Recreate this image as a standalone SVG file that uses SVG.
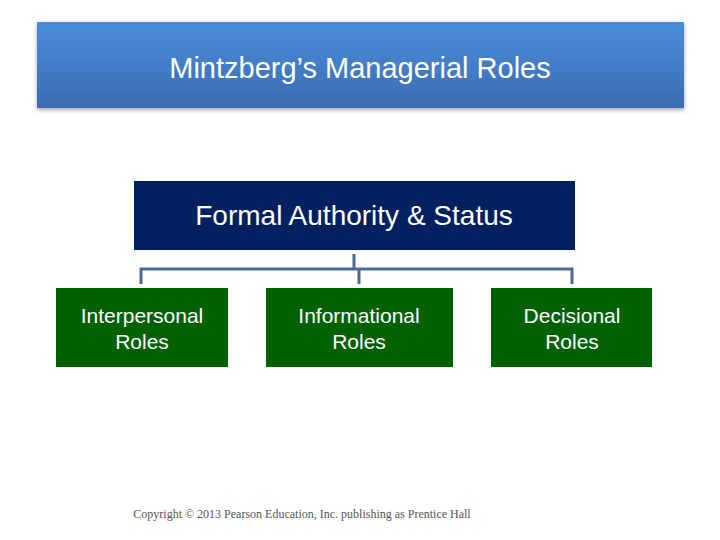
<svg xmlns="http://www.w3.org/2000/svg" width="720" height="540" viewBox="0 0 720 540">
<defs>
<linearGradient id="tg" x1="0" y1="0" x2="0" y2="1"><stop offset="0" stop-color="#4b8ddc"/><stop offset="1" stop-color="#3b6db2"/></linearGradient>
<filter id="sh" x="-5%" y="-10%" width="110%" height="130%"><feDropShadow dx="0" dy="2" stdDeviation="2" flood-color="#000" flood-opacity="0.35"/></filter>
</defs>
<style>
.g{fill:#006100}
.t{font-family:"Liberation Sans",Arial,sans-serif;fill:#fff;text-anchor:middle}
.c{fill:none;stroke:#4f6a8f;stroke-width:3}
</style>
<rect width="720" height="540" fill="#fff"/>
<g id="title"><rect x="37" y="22" width="647" height="86" fill="url(#tg)" filter="url(#sh)"/>
<text class="t" x="360" y="78" font-size="29">Mintzberg’s Managerial Roles</text></g>
<g id="top"><rect x="134" y="181" width="441" height="69" fill="#002060"/>
<text class="t" x="354" y="225" font-size="28">Formal Authority &amp; Status</text></g>
<g id="connectors">
<path class="c" d="M354 254V269M141 284V269H572V284M359 269V284"/>
</g>
<g id="n1"><rect class="g" x="56" y="288" width="172" height="79"/>
<text class="t" x="142" y="323" font-size="21">Interpersonal</text><text class="t" x="142" y="349" font-size="21">Roles</text></g>
<g id="n2"><rect class="g" x="266" y="288" width="187" height="79"/>
<text class="t" x="359" y="323" font-size="21">Informational</text><text class="t" x="359" y="349" font-size="21">Roles</text></g>
<g id="n3"><rect class="g" x="491" y="288" width="161" height="79"/>
<text class="t" x="572" y="323" font-size="21">Decisional</text><text class="t" x="572" y="349" font-size="21">Roles</text></g>
<text x="302" y="518" font-family="Liberation Serif,serif" font-size="12" fill="#555" text-anchor="middle">Copyright © 2013 Pearson Education, Inc. publishing as Prentice Hall</text>
</svg>
